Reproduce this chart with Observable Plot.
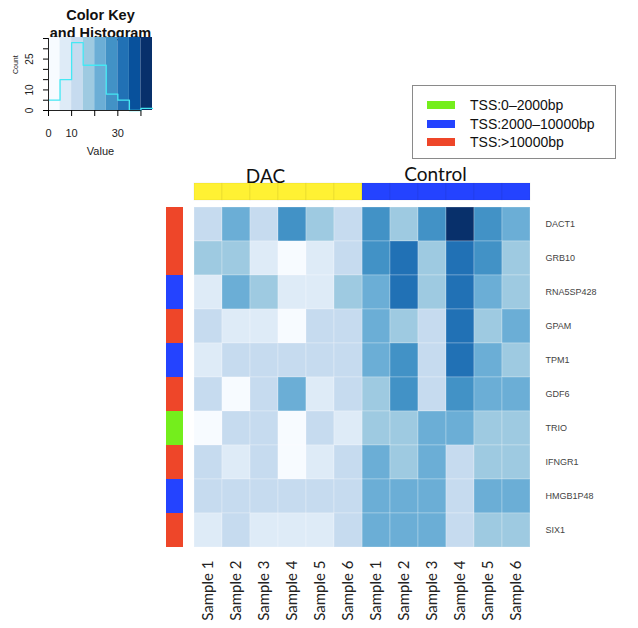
<!DOCTYPE html>
<html>
<head>
<meta charset="utf-8">
<script src="https://cdn.jsdelivr.net/npm/d3@7"></script>
<script src="https://cdn.jsdelivr.net/npm/@observablehq/plot@0.6"></script>
<style>
  html, body { margin: 0; padding: 0; background: #fff; }
  #root { position: relative; width: 638px; height: 628px; overflow: hidden; background: #fff; }
  .abs { position: absolute; }
  .abs svg { overflow: visible; }
  #legend { left: 412px; top: 85px; width: 204px; height: 74px; border: 1.5px solid #8a8a8a; box-sizing: border-box;
            font-family: "Liberation Sans", Arial, sans-serif; font-size: 14px; color: #111; }
  #legend .row { position: absolute; left: 14px; height: 18px; display: flex; align-items: center; }
  #legend .sw { width: 28px; height: 8px; margin-right: 15px; }
</style>
</head>
<body>
<div id="root"></div>
<script>
// ---------- data ----------
const samples = ["Sample 1", "Sample 2", "Sample 3", "Sample 4", "Sample 5", "Sample 6"];
const groups = ["DAC", "Control"];
const genes = ["DACT1", "GRB10", "RNA5SP428", "GPAM", "TPM1", "GDF6", "TRIO", "IFNGR1", "HMGB1P48", "SIX1"];
const tssClasses = ["TSS:0-2000bp", "TSS:2000-10000bp", "TSS:>10000bp"];
const legendLabels = ["TSS:0\u20132000bp", "TSS:2000\u201310000bp", "TSS:>10000bp"];
const geneTss = ["TSS:>10000bp", "TSS:>10000bp", "TSS:2000-10000bp", "TSS:>10000bp", "TSS:2000-10000bp",
                 "TSS:>10000bp", "TSS:0-2000bp", "TSS:>10000bp", "TSS:2000-10000bp", "TSS:>10000bp"];
// values per gene (rows) x sample (columns)
const dacValues = [
  [12, 23, 13, 28, 17, 12],
  [16, 17, 8, 3, 7, 11],
  [7, 22, 17, 8, 7, 16],
  [12, 8, 7, 4, 11, 12],
  [8, 11, 12, 12, 11, 12],
  [12, 3, 11, 22, 8, 12],
  [4, 11, 12, 3, 12, 8],
  [11, 8, 12, 4, 7, 12],
  [12, 11, 12, 11, 12, 11],
  [8, 11, 7, 8, 7, 12]
];
const controlValues = [
  [27, 18, 28, 43, 27, 22],
  [28, 32, 17, 33, 27, 16],
  [22, 33, 17, 32, 23, 17],
  [23, 17, 12, 32, 18, 22],
  [22, 28, 12, 33, 23, 17],
  [17, 27, 11, 28, 22, 23],
  [18, 17, 22, 23, 17, 16],
  [22, 17, 23, 12, 18, 17],
  [23, 22, 22, 11, 23, 22],
  [22, 23, 22, 12, 17, 16]
];
// color key histogram
const keyBreaks = [0, 5, 10, 15, 20, 25, 30, 35, 40, 45];
const histCounts = [5, 15, 33, 22, 22, 8, 5, 0, 1];
const keyXTicks = [0, 10, 20, 30, 40];
const keyXLabels = [0, 10, 30];
const keyYTicks = [0, 5, 10, 15, 20, 25, 30, 35];
const keyYLabels = [0, 10, 25];

// ---------- styles ----------
const blues = ["#f7fbff", "#deebf7", "#c6dbef", "#9ecae1", "#6baed6", "#4292c6", "#2171b5", "#08519c", "#08306b"];
const tssColors = ["#74ee1c", "#2443ff", "#ee4629"];
const groupColors = ["#fff133", "#2443ff"];
const colorScale = {type: "threshold", domain: keyBreaks.slice(1, -1), range: blues};

// ---------- derived tables ----------
const colKeys = groups.flatMap(g => samples.map(s => `${g}|${s}`));
const cells = [];
genes.forEach((g, i) => {
  samples.forEach((s, j) => {
    cells.push({gene: g, col: `DAC|${s}`, value: dacValues[i][j]});
    cells.push({gene: g, col: `Control|${s}`, value: controlValues[i][j]});
  });
});
const rowSide = genes.map((g, i) => ({gene: g, tss: geneTss[i]}));
const colSide = colKeys.map(k => ({col: k, group: k.split("|")[0]}));
const bins = histCounts.map((c, i) => ({x1: keyBreaks[i], x2: keyBreaks[i + 1], count: c}));
const histLine = bins.map(b => ({x: b.x1, y: b.count})).concat([{x: keyBreaks[keyBreaks.length - 1], y: histCounts[histCounts.length - 1]}]);

const root = document.getElementById("root");
function place(node, left, top) {
  const d = document.createElement("div");
  d.className = "abs";
  d.style.left = left + "px";
  d.style.top = top + "px";
  d.appendChild(node);
  root.appendChild(d);
  return d;
}

const sans = "Liberation Sans, Arial, sans-serif";

// ---------- color key ----------
const keyPlot = Plot.plot({
  width: 170, height: 170,
  marginLeft: 48, marginRight: 18, marginTop: 37, marginBottom: 60,
  style: {fontFamily: sans, background: "transparent"},
  x: {domain: [0, 45]},
  y: {domain: [0, 35.5]},
  color: colorScale,
  marks: [
    Plot.text(["Color Key"], {frameAnchor: "top", dy: -28, fontSize: 14.5, fontWeight: "bold", fill: "#111"}),
    Plot.text(["and Histogram"], {frameAnchor: "top", dy: -10, fontSize: 14.5, fontWeight: "bold", fill: "#111"}),
    Plot.rect(bins, {x1: "x1", x2: "x2", y1: 0, y2: 35.5, fill: d => (d.x1 + d.x2) / 2}),
    Plot.line(histLine, {x: "x", y: "y", curve: "step-after", stroke: "#44e8f4", strokeWidth: 1.3}),
    Plot.ruleY([0], {x1: 0, x2: 40, stroke: "#222"}),
    Plot.ruleX([0], {y1: 0, y2: 35, stroke: "#222"}),
    Plot.axisX({ticks: keyXTicks, tickSize: 6, tickPadding: 13, fontSize: 11, fill: "#222", label: null,
                tickFormat: d => keyXLabels.includes(d) ? String(d) : ""}),
    Plot.axisY({ticks: keyYTicks, tickSize: 5, tickFormat: () => "", label: null}),
    Plot.text(keyYLabels, {x: 0, y: d => d, text: d => String(d), rotate: -90, dx: -19, fontSize: 10, fill: "#222"}),
    Plot.text(["Count"], {frameAnchor: "left", dx: -33, rotate: -90, fontSize: 7, fill: "#222"}),
    Plot.text(["Value"], {frameAnchor: "bottom", dy: 44, fontSize: 11, fill: "#222"})
  ]
});
place(keyPlot, 0, 0);

// ---------- legend ----------
const legend = document.createElement("div");
legend.id = "legend";
legend.className = "abs";
legendLabels.forEach((lab, i) => {
  const r = document.createElement("div");
  r.className = "row";
  r.style.top = (10 + i * 18.5) + "px";
  const sw = document.createElement("div");
  sw.className = "sw";
  sw.style.background = tssColors[i];
  const t = document.createElement("span");
  t.textContent = lab;
  r.appendChild(sw);
  r.appendChild(t);
  legend.appendChild(r);
});
root.appendChild(legend);

// ---------- column side bar ----------
const colPlot = Plot.plot({
  width: 343, height: 42,
  marginLeft: 0, marginRight: 0, marginTop: 25, marginBottom: 0,
  style: {background: "transparent"},
  x: {domain: colKeys, padding: 0, axis: null},
  color: {domain: groups, range: groupColors},
  marks: [
    Plot.cell(colSide, {x: "col", fill: "group", stroke: "#000", strokeOpacity: 0.06, strokeWidth: 1}),
    Plot.text([groups[0]], {x: d => `${d}|${samples[2]}`, frameAnchor: "top", lineAnchor: "bottom", dy: -1, dx: 1,
                            fontSize: 19, fontFamily: "Lato, sans-serif", fill: "#111"}),
    Plot.text([groups[1]], {x: d => `${d}|${samples[2]}`, frameAnchor: "top", lineAnchor: "bottom", dy: -3, dx: 3,
                            fontSize: 19, fontFamily: "Lato, sans-serif", fill: "#111"})
  ]
});
place(colPlot, 190, 158);

// ---------- row side bar ----------
const rowPlot = Plot.plot({
  width: 17, height: 342, margin: 0,
  style: {background: "transparent"},
  y: {domain: genes, padding: 0, axis: null},
  color: {domain: tssClasses, range: tssColors},
  marks: [Plot.cell(rowSide, {y: "gene", fill: "tss"})]
});
place(rowPlot, 166, 206);

// ---------- heatmap ----------
const heat = Plot.plot({
  width: 438, height: 422,
  marginLeft: 0, marginTop: 0, marginRight: 95, marginBottom: 80,
  style: {background: "transparent"},
  x: {domain: colKeys, padding: 0},
  y: {domain: genes, padding: 0},
  color: colorScale,
  marks: [
    Plot.cell(cells, {x: "col", y: "gene", fill: "value", stroke: "#fff", strokeOpacity: 0.25, strokeWidth: 1}),
    Plot.axisX({anchor: "bottom", tickSize: 0, tickPadding: 12, tickRotate: -90, label: null,
                tickFormat: k => k.split("|")[1], fontSize: 15, fontFamily: "Lato, sans-serif", fill: "#222"}),
    Plot.axisY({anchor: "right", tickSize: 0, tickPadding: 12, label: null,
                fontSize: 9, fontFamily: sans, fill: "#444"})
  ]
});
place(heat, 190, 206);
</script>
</body>
</html>
